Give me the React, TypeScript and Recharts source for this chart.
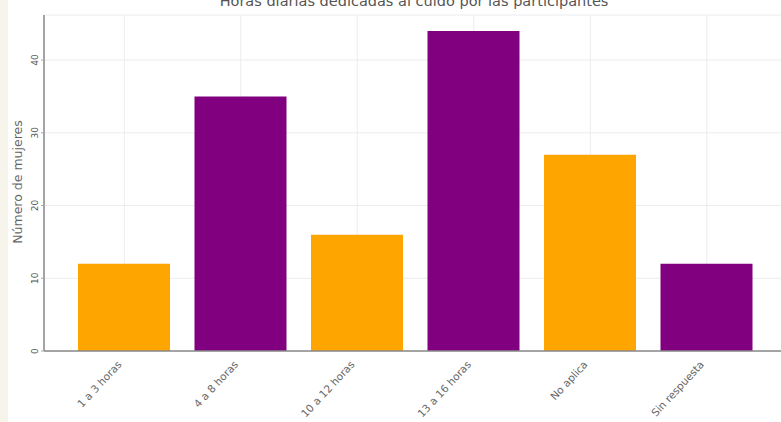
import React from "react";
import { BarChart, Bar, XAxis, YAxis, CartesianGrid, Cell } from "recharts";

const categories = ["1 a 3 horas", "4 a 8 horas", "10 a 12 horas", "13 a 16 horas", "No aplica", "Sin respuesta"];
const counts = [12, 35, 16, 44, 27, 12];
const barColors = ["#FFA500", "#800080", "#FFA500", "#800080", "#FFA500", "#800080"];
const yTicks = [0, 10, 20, 30, 40];

const data = categories.map((c, i) => ({ name: c, value: counts[i] }));

const XTick = (props: any) => {
  const { x, y, payload } = props;
  const ax = x - 2;
  const ay = y + 6;
  return (
    <text x={ax} y={ay} transform={`rotate(-47, ${ax}, ${ay})`} textAnchor="end" fontSize={10.5} fill="#666" fontFamily="DejaVu Sans">
      {payload.value}
    </text>
  );
};

const YTick = (props: any) => {
  const { x, y, payload } = props;
  const tx = x - 1;
  return (
    <text x={tx} y={y} transform={`rotate(-90, ${tx}, ${y})`} textAnchor="middle" fontSize={9} fill="#555" fontFamily="DejaVu Sans">
      {payload.value}
    </text>
  );
};

export default function App() {
  return (
    <div style={{ position: "absolute", left: 0, top: 0, width: 781, height: 422, overflow: "hidden", background: "#fff" }}>
      <div style={{ position: "absolute", left: 0, top: 0, width: 8, height: 422, background: "#f7f4ec" }} />
      <div
        style={{
          position: "absolute",
          left: 0,
          top: -7,
          width: 828,
          textAlign: "center",
          fontFamily: "DejaVu Sans",
          fontSize: 14.5,
          color: "#555",
          whiteSpace: "nowrap",
        }}
      >
        Horas diarias dedicadas al cuido por las participantes
      </div>
      <div
        style={{
          position: "absolute",
          left: 17,
          top: 182,
          transform: "translate(-50%, -50%) rotate(-90deg)",
          fontFamily: "DejaVu Sans",
          fontSize: 12.5,
          color: "#666",
          whiteSpace: "nowrap",
        }}
      >
        Número de mujeres
      </div>
      <div style={{ position: "absolute", left: 0, top: 0 }}>
        <BarChart width={800} height={422} data={data} margin={{ top: 15, right: 13, left: 0, bottom: 0 }}>
          <CartesianGrid stroke="#ececec" strokeWidth={1} />
          <XAxis
            dataKey="name"
            type="category"
            padding={{ left: 22, right: 22 }}
            height={71}
            tick={<XTick />}
            tickLine={false}
            axisLine={{ stroke: "#888", strokeWidth: 1.5 }}
            interval={0}
          />
          <YAxis
            width={44}
            domain={[0, 46.2]}
            ticks={yTicks}
            allowDataOverflow
            tick={<YTick />}
            tickLine={{ stroke: "#aaa" }}
            tickSize={3}
            axisLine={{ stroke: "#888", strokeWidth: 1.5 }}
            interval={0}
          />
          <Bar dataKey="value" barSize={92} isAnimationActive={false}>
            {data.map((d, i) => (
              <Cell key={d.name} fill={barColors[i]} />
            ))}
          </Bar>
        </BarChart>
      </div>
    </div>
  );
}
